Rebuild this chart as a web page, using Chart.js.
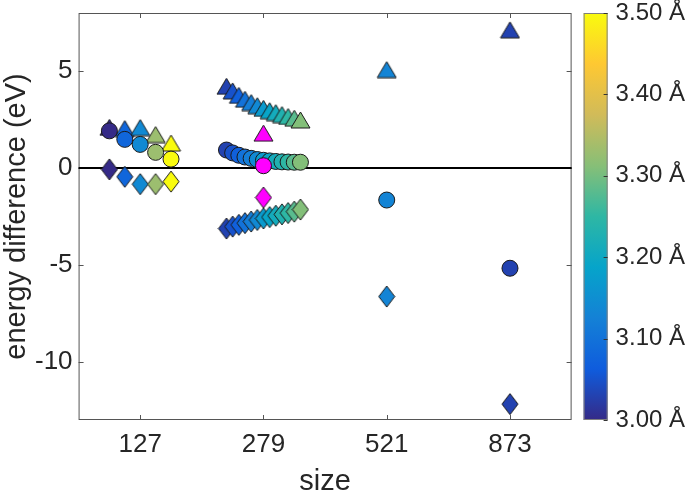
<!DOCTYPE html>
<html>
<head>
<meta charset="utf-8">
<script src="https://cdn.jsdelivr.net/npm/chart.js@4.4.1/dist/chart.umd.min.js"></script>
<style>
  html, body { margin: 0; padding: 0; background: #fff; }
</style>
</head>
<body>
<canvas id="chart" width="685" height="493"></canvas>
<script>
// categories and ticks
const sizes = ['127', '279', '521', '873'];
const yTicks = [-10, -5, 0, 5];
const cbTicks = [3.0, 3.1, 3.2, 3.3, 3.4, 3.5];

// size 127 : offset from category, distance (Å), energies (eV)
const pos127 = [-0.25, -0.125, 0, 0.125, 0.25];
const dist127 = [3.00, 3.08, 3.14, 3.33, 3.50];
const tri127 = [2.10, 2.04, 2.09, 1.73, 1.29];
const circ127 = [1.92, 1.48, 1.22, 0.81, 0.46];
const dia127 = [-0.07, -0.45, -0.83, -0.83, -0.70];

// size 279
const pos279 = [-0.3, -0.25, -0.2, -0.15, -0.1, -0.05, 0, 0.05, 0.1, 0.15, 0.2, 0.25, 0.3];
const dist279 = [3.03, 3.05, 3.07, 3.10, 3.12, 3.14, 3.17, 3.19, 3.21, 3.23, 3.25, 3.28, 3.31];
const tri279 = [4.22, 3.98, 3.75, 3.55, 3.38, 3.22, 3.08, 2.96, 2.86, 2.76, 2.66, 2.57, 2.48];
const circ279 = [0.93, 0.78, 0.66, 0.57, 0.50, 0.44, 0.40, 0.37, 0.34, 0.32, 0.31, 0.30, 0.30];
const dia279 = [-3.12, -3.02, -2.93, -2.84, -2.76, -2.68, -2.60, -2.53, -2.46, -2.39, -2.32, -2.25, -2.14];
// magenta reference point at 279 (triangle, circle, diamond)
const ref279 = [1.80, 0.12, -1.52];

// size 521 and 873 (one point each)
const dist521 = [3.13];
const tri521 = [5.08];
const circ521 = [-1.65];
const dia521 = [-6.63];

const dist873 = [3.03];
const tri873 = [7.13];
const circ873 = [-5.17];
const dia873 = [-12.18];

// parula colour map
const parula = ['#352a87', '#0f5cdd', '#1481d6', '#06a4ca', '#2eb7a4', '#87bf77', '#d1bb59', '#fec832', '#f9fb0e'];
const dMin = 3.0, dMax = 3.5;

function hex2rgb(h) {
    return [parseInt(h.slice(1, 3), 16), parseInt(h.slice(3, 5), 16), parseInt(h.slice(5, 7), 16)];
}
function colorFor(d) {
    if (d === null) return '#ff00ff';
    let t = Math.min(1, Math.max(0, (d - dMin) / (dMax - dMin))) * (parula.length - 1);
    let i = Math.min(parula.length - 2, Math.floor(t));
    let f = t - i;
    let a = hex2rgb(parula[i]), b = hex2rgb(parula[i + 1]);
    let c = a.map((v, k) => Math.round(v + (b[k] - v) * f));
    return 'rgb(' + c.join(',') + ')';
}

// build points for one marker shape
function points(vals) {
    const pts = [];
    const add = (cat, pos, list, dist) => list.forEach((v, i) => pts.push({ x: cat + pos[i], y: v, d: dist[i] }));
    add(1, pos127, vals[0], dist127);
    add(2, pos279, vals[1], dist279);
    add(3, [0], vals[2], dist521);
    add(4, [0], vals[3], dist873);
    pts.push({ x: 2, y: vals[4], d: null });
    return pts;
}
const triPts = points([tri127, tri279, tri521, tri873, ref279[0]]);
const circPts = points([circ127, circ279, circ521, circ873, ref279[1]]);
const diaPts = points([dia127, dia279, dia521, dia873, ref279[2]]);

// marker images (MATLAB-like triangle and tall diamond)
const cache = {};
function marker(shape, fill) {
    const key = shape + fill;
    if (cache[key]) return cache[key];
    const cv = document.createElement('canvas');
    const w = shape === 'tri' ? 19 : 16;
    const h = shape === 'tri' ? 16 : 21;
    cv.width = w + 2; cv.height = h + 2;
    const c = cv.getContext('2d');
    c.beginPath();
    if (shape === 'tri') {
        c.moveTo(1 + w / 2, 1);
        c.lineTo(1 + w, 1 + h);
        c.lineTo(1, 1 + h);
    } else {
        c.moveTo(1 + w / 2, 1);
        c.lineTo(1 + w, 1 + h / 2);
        c.lineTo(1 + w / 2, 1 + h);
        c.lineTo(1, 1 + h / 2);
    }
    c.closePath();
    c.fillStyle = fill;
    c.fill();
    c.lineWidth = 1;
    c.strokeStyle = '#1a1a1a';
    c.stroke();
    cache[key] = cv;
    return cv;
}

const axisColor = '#555555';
const textColor = '#262626';
const clear = 'rgba(0,0,0,0)';

// box, inner ticks and zero line
const framePlugin = {
    id: 'frame',
    beforeDatasetsDraw(chart) {
        const { ctx, chartArea: a, scales } = chart;
        ctx.save();
        ctx.strokeStyle = axisColor;
        ctx.lineWidth = 1;
        ctx.strokeRect(a.left + 0.5, a.top + 0.5, a.right - a.left - 1, a.bottom - a.top - 1);
        ctx.beginPath();
        scales.x.ticks.forEach(t => {
            const px = Math.round(scales.x.getPixelForValue(t.value)) + 0.5;
            ctx.moveTo(px, a.bottom); ctx.lineTo(px, a.bottom - 5);
            ctx.moveTo(px, a.top); ctx.lineTo(px, a.top + 5);
        });
        scales.y.ticks.forEach(t => {
            const py = Math.round(scales.y.getPixelForValue(t.value)) + 0.5;
            ctx.moveTo(a.left, py); ctx.lineTo(a.left + 5, py);
            ctx.moveTo(a.right, py); ctx.lineTo(a.right - 5, py);
        });
        ctx.stroke();
        const y0 = scales.y.getPixelForValue(0);
        ctx.strokeStyle = '#000';
        ctx.lineWidth = 2;
        ctx.beginPath();
        ctx.moveTo(a.left, y0); ctx.lineTo(a.right, y0);
        ctx.stroke();
        ctx.restore();
    }
};

// colour bar
const colorbarPlugin = {
    id: 'colorbar',
    afterDraw(chart) {
        const { ctx, chartArea: a, scales } = chart;
        const s = scales.cb;
        const x0 = a.right + 12, w = 24;
        const top = s.getPixelForValue(dMax), bot = s.getPixelForValue(dMin);
        const g = ctx.createLinearGradient(0, bot, 0, top);
        parula.forEach((c, i) => g.addColorStop(i / (parula.length - 1), c));
        ctx.save();
        ctx.fillStyle = g;
        ctx.fillRect(x0, top, w, bot - top);
        ctx.strokeStyle = '#7f7f7f';
        ctx.lineWidth = 1;
        ctx.strokeRect(x0 + 0.5, top + 0.5, w - 1, bot - top - 1);
        ctx.strokeStyle = '#333';
        ctx.beginPath();
        s.ticks.forEach(t => {
            const py = Math.round(s.getPixelForValue(t.value)) + 0.5;
            ctx.moveTo(x0 + w - 4, py); ctx.lineTo(x0 + w, py);
        });
        ctx.stroke();
        ctx.restore();
    }
};

const font = { family: '"Liberation Sans", Arial, sans-serif', size: 26, lineHeight: 1 };
const titleFont = { family: '"Liberation Sans", Arial, sans-serif', size: 29, lineHeight: 1 };

const pointOpts = {
    borderColor: '#1a1a1a',
    borderWidth: 1,
    backgroundColor: ctx => ctx.raw ? colorFor(ctx.raw.d) : '#000'
};

new Chart(document.getElementById('chart'), {
    type: 'scatter',
    data: {
        datasets: [
            Object.assign({ label: 'circle', data: circPts, pointStyle: 'circle', pointRadius: 8, pointHoverRadius: 8, order: 0 }, pointOpts),
            Object.assign({ label: 'triangle', data: triPts, pointRadius: 9, pointHoverRadius: 9, order: 1,
                pointStyle: ctx => marker('tri', ctx.raw ? colorFor(ctx.raw.d) : '#000') }, pointOpts),
            Object.assign({ label: 'diamond', data: diaPts, pointRadius: 9, pointHoverRadius: 9, order: 2,
                pointStyle: ctx => marker('dia', ctx.raw ? colorFor(ctx.raw.d) : '#000') }, pointOpts)
        ]
    },
    options: {
        responsive: false,
        animation: false,
        layout: { padding: { left: 2, right: 0, top: 0, bottom: -3 } },
        plugins: { legend: { display: false }, tooltip: { enabled: false } },
        scales: {
            x: {
                type: 'linear', min: 0.5, max: 4.5,
                afterBuildTicks: s => { s.ticks = sizes.map((_, i) => ({ value: i + 1 })); },
                ticks: { callback: v => sizes[v - 1], font: font, color: textColor, padding: 0, maxRotation: 0 },
                grid: { display: true, drawOnChartArea: false, drawTicks: true, tickLength: 12, color: clear },
                border: { display: false },
                title: { display: true, text: 'size', font: titleFont, color: textColor, padding: { top: 9, bottom: 0 } }
            },
            y: {
                min: -13, max: 8,
                afterBuildTicks: s => { s.ticks = yTicks.map(v => ({ value: v })); },
                ticks: { font: font, color: textColor, padding: 0 },
                grid: { display: true, drawOnChartArea: false, drawTicks: true, tickLength: 6, color: clear },
                border: { display: false },
                title: { display: true, text: 'energy difference (eV)', font: titleFont, color: textColor, padding: { top: 0, bottom: 4 } }
            },
            cb: {
                type: 'linear', position: 'right', min: dMin, max: dMax,
                afterBuildTicks: s => { s.ticks = cbTicks.map(v => ({ value: v })); },
                ticks: { callback: v => v.toFixed(2) + ' Å', font: Object.assign({}, font, { size: 24 }), color: textColor, padding: 0 },
                grid: { display: true, drawOnChartArea: false, drawTicks: true, tickLength: 44, color: clear },
                border: { display: false }
            }
        }
    },
    plugins: [framePlugin, colorbarPlugin]
});
</script>
</body>
</html>
